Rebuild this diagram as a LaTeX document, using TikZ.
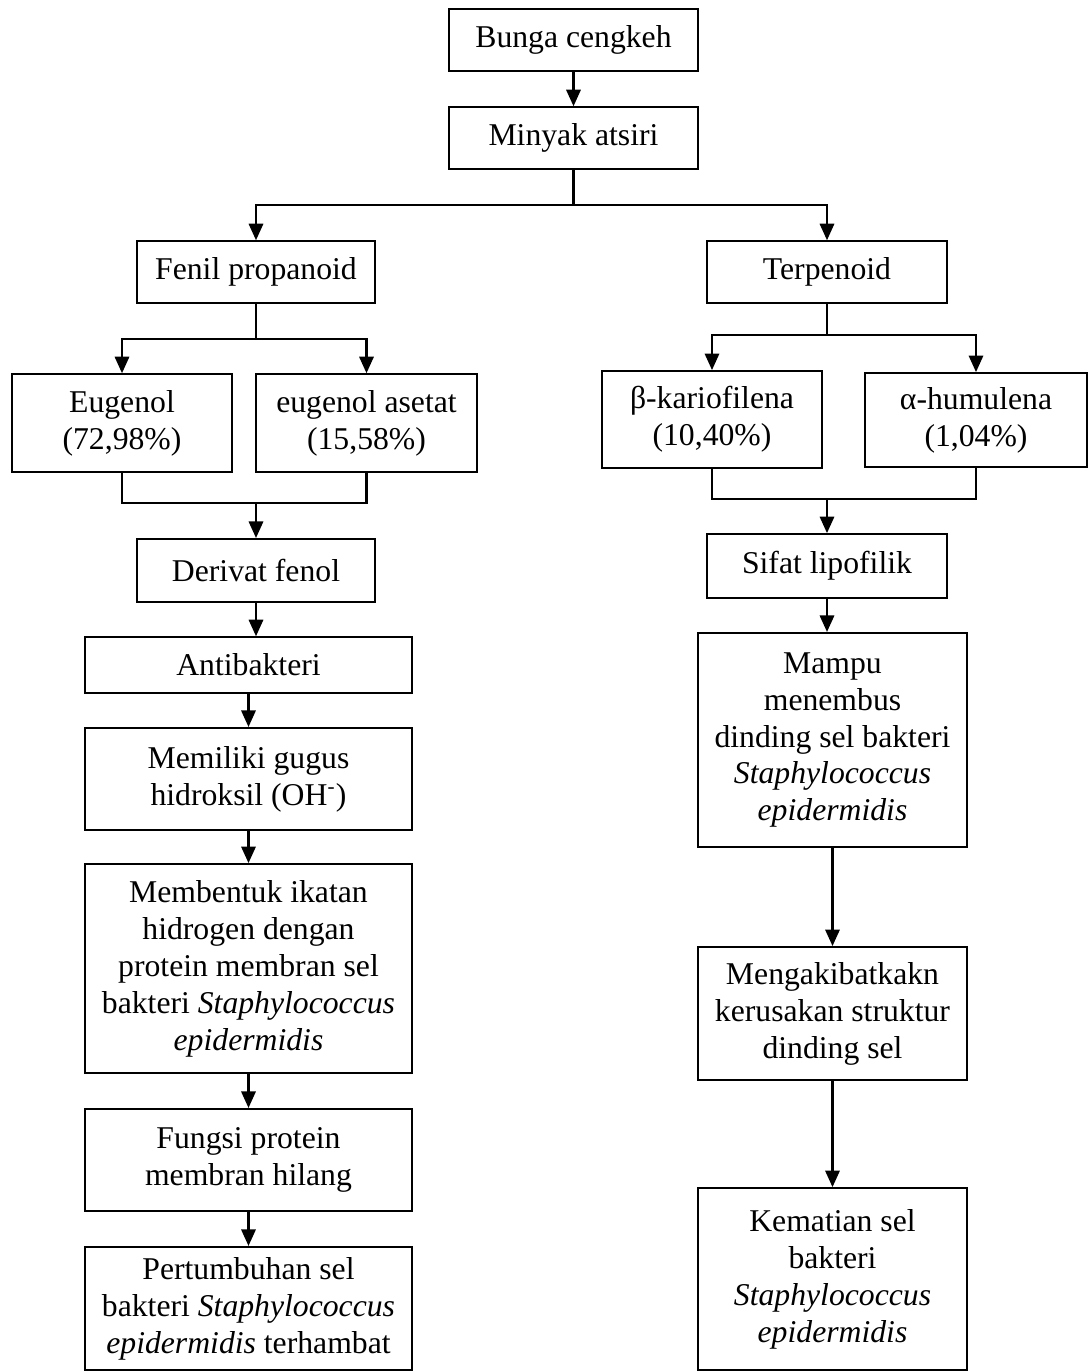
\documentclass[tikz,border=0pt]{standalone}
\usepackage{fontspec}
\setmainfont{Liberation Serif}
\usetikzlibrary{arrows.meta}

\begin{document}
\begin{tikzpicture}[
    x=0.0133cm, y=-0.0133cm,
    box/.style={rectangle, draw, line width=0.7pt, align=center, inner sep=2pt, font=\fontsize{12}{14}\selectfont},
    arrow/.style={-{Triangle[length=0.22cm, width=0.19cm]}, line width=0.9pt},
    line/.style={line width=0.9pt}
]
\useasboundingbox (0,0) rectangle (1089,1372);

% Kotak atas
\node[box, minimum width=3.31cm, minimum height=0.82cm] (bunga) at (573.5,40) {Bunga cengkeh};
\node[box, minimum width=3.31cm, minimum height=0.82cm] (minyak) at (573.5,138) {Minyak atsiri};

% Golongan senyawa
\node[box, minimum width=3.17cm, minimum height=0.82cm] (fenil) at (256,272) {Fenil propanoid};
\node[box, minimum width=3.19cm, minimum height=0.82cm] (terpenoid) at (827,272) {Terpenoid};

% Komponen
\node[box, minimum width=2.93cm, minimum height=1.30cm] (eugenol) at (122,423) {Eugenol\\(72,98\%)};
\node[box, minimum width=2.94cm, minimum height=1.30cm] (asetat) at (366.5,423) {eugenol asetat\\(15,58\%)};
\node[box, minimum width=2.93cm, minimum height=1.29cm] (kario) at (712,419.5) {β-kariofilena\\(10,40\%)};
\node[box, minimum width=2.95cm, minimum height=1.25cm] (humulena) at (976,420) {α-humulena\\(1,04\%)};

% Jalur kiri
\node[box, minimum width=3.17cm, minimum height=0.84cm] (derivat) at (256,570.5) {Derivat fenol};
\node[box, minimum width=4.35cm, minimum height=0.74cm] (antibakteri) at (248.5,665) {Antibakteri};
\node[box, minimum width=4.35cm, minimum height=1.36cm] (gugus) at (248.5,779) {Memiliki gugus\\hidroksil (OH\textsuperscript{-})};
\node[box, minimum width=4.35cm, minimum height=2.78cm] (ikatan) at (248.5,968.5) {Membentuk ikatan\\hidrogen dengan\\protein membran sel\\bakteri \textit{Staphylococcus}\\\textit{epidermidis}};
\node[box, minimum width=4.35cm, minimum height=1.36cm] (fungsi) at (248.5,1160) {Fungsi protein\\membran hilang};
\node[box, minimum width=4.35cm, minimum height=1.64cm] (tumbuh) at (248.5,1308.5) {Pertumbuhan sel\\bakteri \textit{Staphylococcus}\\\textit{epidermidis} terhambat};

% Jalur kanan
\node[box, minimum width=3.19cm, minimum height=0.85cm] (lipofilik) at (827,566) {Sifat lipofilik};
\node[box, minimum width=3.58cm, minimum height=2.85cm] (menembus) at (832.5,740) {Mampu\\menembus\\dinding sel bakteri\\\textit{Staphylococcus}\\\textit{epidermidis}};
\node[box, minimum width=3.58cm, minimum height=1.77cm] (kerusakan) at (832.5,1013.5) {Mengakibatkakn\\kerusakan struktur\\dinding sel};
\node[box, minimum width=3.58cm, minimum height=2.42cm] (kematian) at (832.5,1279) {Kematian sel\\bakteri\\\textit{Staphylococcus}\\\textit{epidermidis}};

% Titik cabang
\coordinate (cabang1) at (573.5,205);
\coordinate (cabang2) at (256,339);
\coordinate (cabang3) at (827,335);
\coordinate (gabung1) at (256,503);
\coordinate (gabung2) at (827,499);

% Panah
\draw[arrow] (bunga) -- (minyak);
\draw[line] (minyak) -- (cabang1);
\draw[arrow] (cabang1) -| (fenil.north);
\draw[arrow] (cabang1) -| (terpenoid.north);
\draw[line] (fenil) -- (cabang2);
\draw[arrow] (cabang2) -| (eugenol.north);
\draw[arrow] (cabang2) -| (asetat.north);
\draw[line] (terpenoid) -- (cabang3);
\draw[arrow] (cabang3) -| (kario.north);
\draw[arrow] (cabang3) -| (humulena.north);
\draw[line] (eugenol.south) |- (gabung1);
\draw[line] (asetat.south) |- (gabung1);
\draw[arrow] (gabung1) -- (derivat);
\draw[line] (kario.south) |- (gabung2);
\draw[line] (humulena.south) |- (gabung2);
\draw[arrow] (gabung2) -- (lipofilik);
\draw[arrow] (derivat) -- (derivat |- antibakteri.north);
\draw[arrow] (antibakteri) -- (gugus);
\draw[arrow] (gugus) -- (ikatan);
\draw[arrow] (ikatan) -- (fungsi);
\draw[arrow] (fungsi) -- (tumbuh);
\draw[arrow] (lipofilik) -- (lipofilik |- menembus.north);
\draw[arrow] (menembus) -- (kerusakan);
\draw[arrow] (kerusakan) -- (kematian);
\end{tikzpicture}
\end{document}
